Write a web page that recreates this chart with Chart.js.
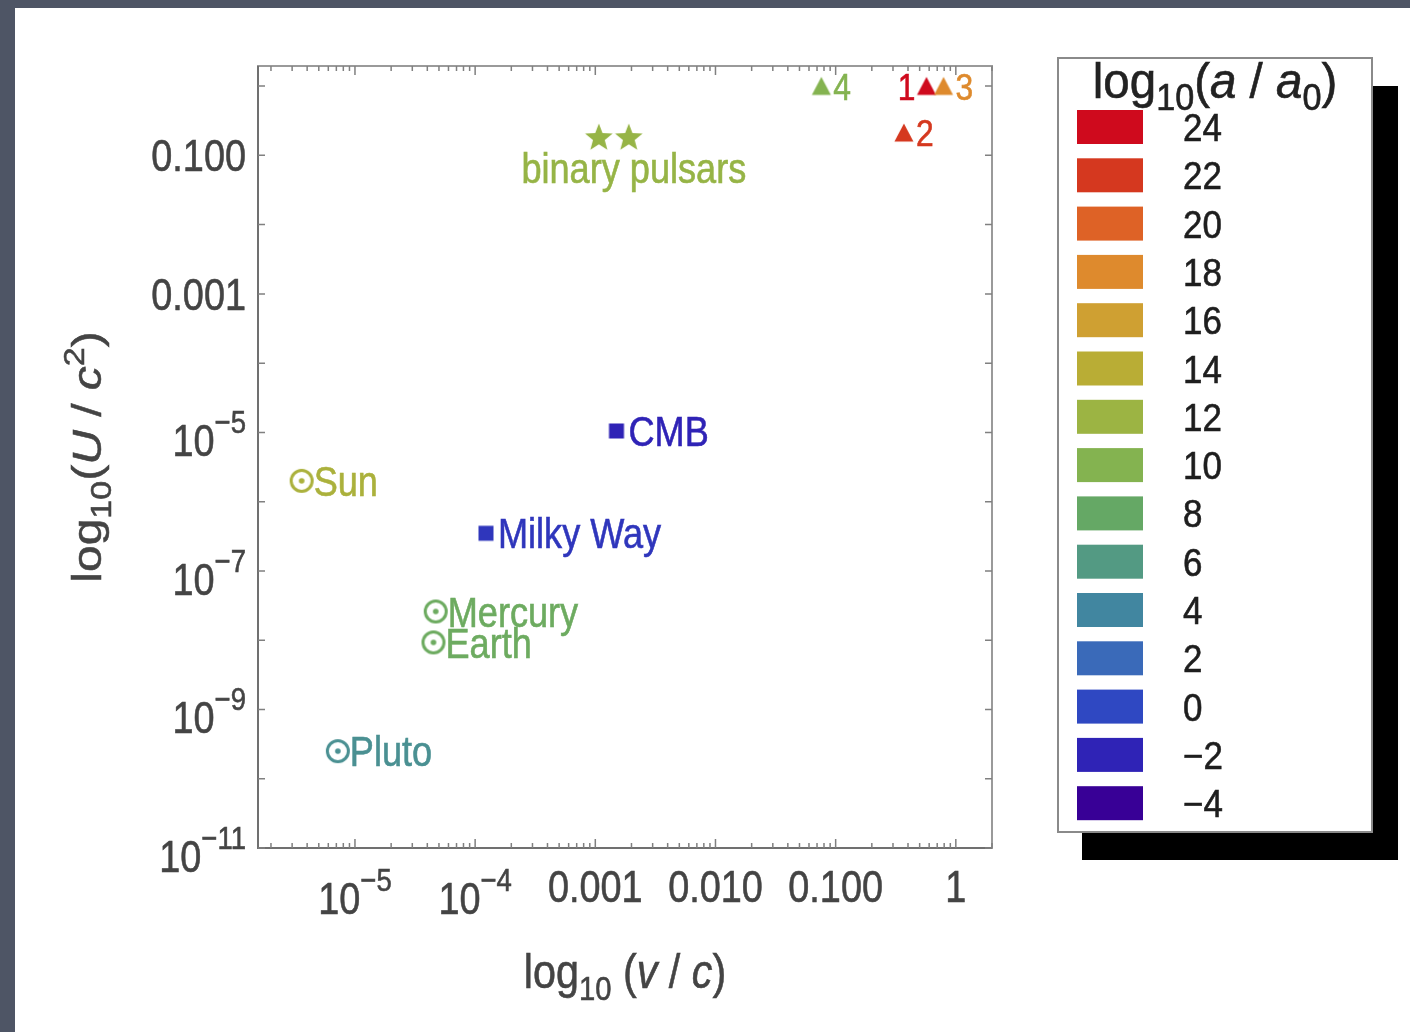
<!DOCTYPE html>
<html>
<head>
<meta charset="utf-8">
<script src="https://cdn.jsdelivr.net/npm/chart.js@4.4.1/dist/chart.umd.min.js"></script>
<style>
  html, body { margin: 0; padding: 0; background: #4e5565; }
  #wrap { position: absolute; left: 0; top: 0; width: 1410px; height: 1032px; }
</style>
</head>
<body>
<div id="wrap"><canvas id="myChart" width="1410" height="1032"></canvas></div>
<script>
// solar system bodies: v/c, U/c^2, log10(a/a0)
const planetNames = ['Sun', 'Mercury', 'Earth', 'Pluto'];
const planetV = [3.6e-6, 4.7e-5, 4.5e-5, 7.2e-6];
const planetU = [2.0e-6, 2.6e-8, 9.3e-9, 2.5e-10];
const planetAcc = [13, 8.5, 8.5, 5];

// galactic / cosmological
const galaxyNames = ['Milky Way', 'CMB'];
const galaxyV = [1.23e-4, 1.5e-3];
const galaxyU = [3.5e-7, 1.05e-5];
const galaxyAcc = [-1, -2];

// binary pulsars
const pulsarV = [1.07e-3, 1.9e-3];
const pulsarU = [0.19, 0.19];
const pulsarAcc = [11.5, 11.5];
const pulsarLabel = 'binary pulsars';

// compact objects (numbered triangles)
const compactNames = ['1', '2', '3', '4'];
const compactV = [0.57, 0.37, 0.79, 0.076];
const compactU = [0.99, 0.21, 0.99, 0.99];
const compactAcc = [24, 22, 18, 10];

// colour legend
const accLevels = [24, 22, 20, 18, 16, 14, 12, 10, 8, 6, 4, 2, 0, -2, -4];
const accColors = ['#cf0a1d', '#d5381f', '#de6226', '#de8a2d', '#cfa032', '#b9ad35', '#9cb443',
  '#84b350', '#65a865', '#539a83', '#4186a0', '#3a6ab9', '#2f48c2', '#2f23b6', '#380096'];

// axis ticks
const xTicks = [1e-5, 1e-4, 1e-3, 1e-2, 1e-1, 1];
const xTickText = ['10^−5', '10^−4', '0.001', '0.010', '0.100', '1'];
const yTicks = [1e-1, 1e-3, 1e-5, 1e-7, 1e-9, 1e-11];
const yTickText = ['0.100', '0.001', '10^−5', '10^−7', '10^−9', '10^−11'];

const FAMILY = '"Liberation Sans", Arial, Helvetica, sans-serif';
const SX = 0.86;          // the picture is squeezed sideways
const TEXT = '#444444';

function hexToRgb(h) {
  return [parseInt(h.substr(1, 2), 16), parseInt(h.substr(3, 2), 16), parseInt(h.substr(5, 2), 16)];
}

function colorFor(level) {
  for (let i = 0; i < accLevels.length - 1; i++) {
    if (level <= accLevels[i] && level >= accLevels[i + 1]) {
      const t = (accLevels[i] - level) / (accLevels[i] - accLevels[i + 1]);
      const a = hexToRgb(accColors[i]), b = hexToRgb(accColors[i + 1]);
      const c = a.map((v, k) => Math.round(v + (b[k] - v) * t));
      return 'rgb(' + c.join(',') + ')';
    }
  }
  return level > accLevels[0] ? accColors[0] : accColors[accColors.length - 1];
}

function makeMarker(shape, color) {
  const s = 34, m = s / 2;
  const cv = document.createElement('canvas');
  cv.width = s; cv.height = s;
  const g = cv.getContext('2d');
  g.fillStyle = color;
  g.strokeStyle = color;
  if (shape == 'dotcircle') {
    g.lineWidth = 3;
    g.beginPath(); g.arc(m, m, 10.5, 0, Math.PI * 2); g.stroke();
    g.beginPath(); g.arc(m, m, 2.8, 0, Math.PI * 2); g.fill();
  } else if (shape == 'square') {
    g.fillRect(m - 7.5, m - 7.5, 15, 15);
  } else if (shape == 'star') {
    g.beginPath();
    for (let k = 0; k < 10; k++) {
      const r = k % 2 == 0 ? 14.5 : 6.2;
      const ang = -Math.PI / 2 + k * Math.PI / 5;
      const px = m + r * Math.cos(ang), py = m + 2 + r * Math.sin(ang);
      if (k == 0) g.moveTo(px, py); else g.lineTo(px, py);
    }
    g.closePath(); g.fill();
  } else if (shape == 'triangle') {
    g.beginPath();
    g.moveTo(m, m - 9.5);
    g.lineTo(m + 9.5, m + 8.5);
    g.lineTo(m - 9.5, m + 8.5);
    g.closePath(); g.fill();
  }
  return cv;
}

function toPoints(xs, ys) {
  return xs.map((x, i) => ({ x: x, y: ys[i] }));
}

// rich text: runs of {t, size, dy, italic}
function fontOf(r) {
  return (r.italic ? 'italic ' : '') + r.size + 'px ' + FAMILY;
}
function runsWidth(ctx, runs, sx) {
  let w = 0;
  runs.forEach(r => { ctx.font = fontOf(r); w += ctx.measureText(r.t).width * sx; });
  return w;
}
function drawRuns(ctx, runs, x, y, align, color, sx = SX, sy = 1) {
  const w = runsWidth(ctx, runs, sx);
  let cx = x;
  if (align == 'center') cx = x - w / 2;
  if (align == 'right') cx = x - w;
  ctx.fillStyle = color;
  ctx.strokeStyle = color;
  ctx.lineWidth = 0.6;
  ctx.textBaseline = 'alphabetic';
  ctx.textAlign = 'left';
  runs.forEach(r => {
    ctx.font = fontOf(r);
    const rw = ctx.measureText(r.t).width;
    ctx.save();
    ctx.translate(cx, y + (r.dy || 0) * sy);
    ctx.scale(sx, sy);
    ctx.fillText(r.t, 0, 0);
    ctx.strokeText(r.t, 0, 0);
    ctx.restore();
    cx += rw * sx;
  });
}
function tickRuns(txt, size) {
  if (txt.indexOf('^') >= 0) {
    const p = txt.split('^');
    return [{ t: p[0], size: size }, { t: p[1], size: Math.round(size * 0.72), dy: -23 }];
  }
  return [{ t: txt, size: size }];
}

const labelStyle = {
  planets: { side: ['right', 'right', 'right', 'right'], size: 42 },
  galaxy: { side: ['right', 'right'], size: 42 },
  compact: { side: ['left', 'right', 'right', 'right'], size: 37 }
};

const backgroundPlugin = {
  id: 'paper',
  beforeDraw(chart) {
    const ctx = chart.ctx;
    ctx.save();
    ctx.fillStyle = '#ffffff';
    ctx.fillRect(15, 8, 1395, 1024);
    ctx.restore();
  }
};

const framePlugin = {
  id: 'frame',
  beforeDatasetsDraw(chart) {
    const ctx = chart.ctx, a = chart.chartArea;
    const xs = chart.scales.x, ys = chart.scales.y;
    ctx.save();
    // frame
    ctx.lineWidth = 2;
    ctx.strokeStyle = '#9a9a9a';
    ctx.strokeRect(a.left, a.top, a.right - a.left, a.bottom - a.top);
    ctx.strokeStyle = '#707070';
    ctx.beginPath();
    ctx.moveTo(a.left, a.top); ctx.lineTo(a.left, a.bottom); ctx.lineTo(a.right, a.bottom);
    ctx.stroke();

    // x ticks, log minors, top and bottom, pointing inward
    ctx.lineWidth = 1.5;
    ctx.strokeStyle = '#808080';
    for (let d = -7; d <= 0; d++) {
      for (let m = 1; m <= 9; m++) {
        const v = m * Math.pow(10, d);
        if (v < xs.min || v > xs.max) continue;
        const px = xs.getPixelForValue(v);
        const len = m == 1 ? 9 : 5;
        ctx.beginPath();
        ctx.moveTo(px, a.bottom); ctx.lineTo(px, a.bottom - len);
        ctx.moveTo(px, a.top); ctx.lineTo(px, a.top + len);
        ctx.stroke();
      }
    }
    // y ticks at each decade, left and right
    for (let d = -11; d <= 0; d++) {
      const v = Math.pow(10, d);
      if (v < ys.min || v > ys.max) continue;
      const py = ys.getPixelForValue(v);
      ctx.beginPath();
      ctx.moveTo(a.left, py); ctx.lineTo(a.left + 7, py);
      ctx.moveTo(a.right, py); ctx.lineTo(a.right - 7, py);
      ctx.stroke();
    }

    // tick labels
    xTicks.forEach((v, i) => {
      const px = xs.getPixelForValue(v);
      const txt = xTickText[i];
      const base = txt.indexOf('^') >= 0 ? a.bottom + 66 : a.bottom + 54;
      drawRuns(ctx, tickRuns(txt, 44), px, base, 'center', TEXT);
    });
    yTicks.forEach((v, i) => {
      const py = ys.getPixelForValue(v);
      const txt = yTickText[i];
      const base = txt.indexOf('^') >= 0 ? py + 24 : py + 16;
      drawRuns(ctx, tickRuns(txt, 44), a.left - 12, base, 'right', TEXT);
    });

    // axis titles
    drawRuns(ctx, [
      { t: 'log', size: 48 }, { t: '10', size: 34, dy: 12 }, { t: ' (', size: 48 },
      { t: 'v', size: 48, italic: true }, { t: ' / ', size: 48 },
      { t: 'c', size: 48, italic: true }, { t: ')', size: 48 }
    ], (a.left + a.right) / 2, 988, 'center', TEXT);

    ctx.save();
    ctx.translate(101, (a.top + a.bottom) / 2);
    ctx.rotate(-Math.PI / 2);
    drawRuns(ctx, [
      { t: 'log', size: 48 }, { t: '10', size: 34, dy: 12 }, { t: '(', size: 48 },
      { t: 'U', size: 48, italic: true }, { t: ' / ', size: 48 },
      { t: 'c', size: 48, italic: true }, { t: '2', size: 34, dy: -20 }, { t: ')', size: 48 }
    ], 0, 0, 'center', TEXT, 1, SX);
    ctx.restore();

    // colour legend with drop shadow
    const lx = 1058, ly = 58, lw = 314, lh = 774;
    ctx.fillStyle = '#000000';
    ctx.fillRect(lx + 24, ly + 28, lw + 2, lh);
    ctx.fillStyle = '#ffffff';
    ctx.fillRect(lx, ly, lw, lh);
    ctx.lineWidth = 2;
    ctx.strokeStyle = '#8a8a8a';
    ctx.strokeRect(lx, ly, lw, lh);
    drawRuns(ctx, [
      { t: 'log', size: 50 }, { t: '10', size: 36, dy: 12 }, { t: '(', size: 50 },
      { t: 'a', size: 50, italic: true }, { t: ' / ', size: 50 },
      { t: 'a', size: 50, italic: true }, { t: '0', size: 36, dy: 12 }, { t: ')', size: 50 }
    ], lx + lw / 2, ly + 40, 'center', '#222222', 0.95);
    accLevels.forEach((lev, i) => {
      const cy = 127 + i * 48.3;
      ctx.fillStyle = accColors[i];
      ctx.fillRect(1077, cy - 17, 66, 34);
      const txt = lev < 0 ? '−' + Math.abs(lev) : String(lev);
      drawRuns(ctx, [{ t: txt, size: 38 }], 1183, cy + 14, 'left', '#1e1e1e', 0.92);
    });
    ctx.restore();
  }
};

const labelPlugin = {
  id: 'pointLabels',
  afterDatasetsDraw(chart) {
    const ctx = chart.ctx;
    chart.data.datasets.forEach((ds, di) => {
      const meta = chart.getDatasetMeta(di);
      if (ds.pointLabels) {
        const st = labelStyle[ds.styleKey];
        meta.data.forEach((pt, i) => {
          const col = ds.pointLabelColors[i];
          const size = st.size;
          const base = pt.y + size * 0.36;
          if (st.side[i] == 'left') {
            drawRuns(ctx, [{ t: ds.pointLabels[i], size: size }], pt.x - 11, base, 'right', col);
          } else {
            drawRuns(ctx, [{ t: ds.pointLabels[i], size: size }], pt.x + 12, base, 'left', col);
          }
        });
      }
      if (ds.groupLabel) {
        const p0 = meta.data[0], p1 = meta.data[meta.data.length - 1];
        drawRuns(ctx, [{ t: ds.groupLabel, size: 42 }], (p0.x + p1.x) / 2 + 20, p0.y + 47, 'center', ds.pointLabelColors[0]);
      }
    });
  }
};

const planetColors = planetAcc.map(colorFor);
const galaxyColors = galaxyAcc.map(colorFor);
const pulsarColors = pulsarAcc.map(colorFor);
const compactColors = compactAcc.map(colorFor);

new Chart('myChart', {
  type: 'scatter',
  data: {
    datasets: [
      {
        label: 'Solar system',
        data: toPoints(planetV, planetU),
        pointStyle: planetColors.map(c => makeMarker('dotcircle', c)),
        pointRadius: 10,
        pointLabels: planetNames,
        pointLabelColors: planetColors,
        styleKey: 'planets'
      },
      {
        label: 'Galactic',
        data: toPoints(galaxyV, galaxyU),
        pointStyle: galaxyColors.map(c => makeMarker('square', c)),
        pointRadius: 10,
        pointLabels: galaxyNames,
        pointLabelColors: galaxyColors,
        styleKey: 'galaxy'
      },
      {
        label: pulsarLabel,
        data: toPoints(pulsarV, pulsarU),
        pointStyle: pulsarColors.map(c => makeMarker('star', c)),
        pointRadius: 10,
        groupLabel: pulsarLabel,
        pointLabelColors: pulsarColors
      },
      {
        label: 'Compact',
        data: toPoints(compactV, compactU),
        pointStyle: compactColors.map(c => makeMarker('triangle', c)),
        pointRadius: 10,
        pointLabels: compactNames,
        pointLabelColors: compactColors,
        styleKey: 'compact'
      }
    ]
  },
  options: {
    responsive: false,
    animation: false,
    layout: { padding: { left: 258, right: 418, top: 66, bottom: 184 } },
    plugins: { legend: { display: false }, tooltip: { enabled: false } },
    scales: {
      x: { type: 'logarithmic', min: 1.56e-6, max: 2.0, display: false },
      y: { type: 'logarithmic', min: 1e-11, max: 1.95, display: false }
    }
  },
  plugins: [backgroundPlugin, framePlugin, labelPlugin]
});
</script>
</body>
</html>
